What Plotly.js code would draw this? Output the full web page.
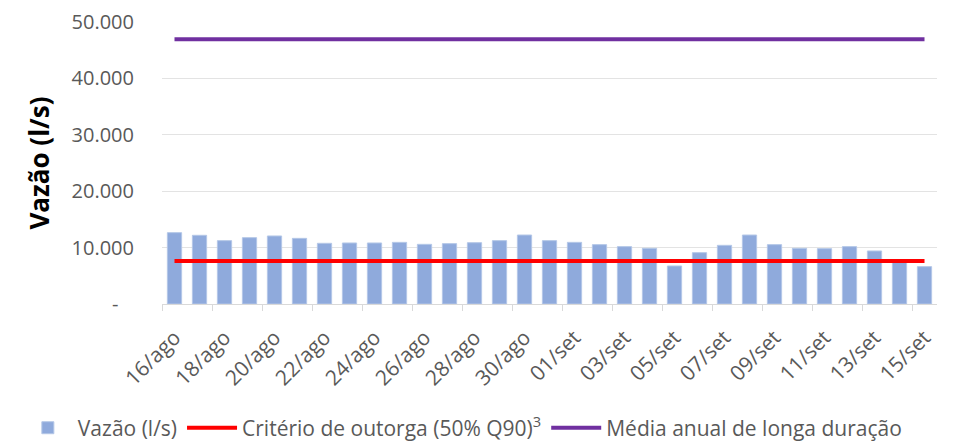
<!DOCTYPE html>
<html><head><meta charset="utf-8">
<script src="https://cdn.plot.ly/plotly-3.0.1.min.js"></script>
<style>html,body{margin:0;padding:0;background:#fff}#chart{width:959px;height:442px}</style>
</head><body><div id="chart"></div>
<script>
const categories = ['16/ago','17/ago','18/ago','19/ago','20/ago','21/ago','22/ago','23/ago','24/ago','25/ago','26/ago','27/ago','28/ago','29/ago','30/ago','31/ago',
  '01/set','02/set','03/set','04/set','05/set','06/set','07/set','08/set','09/set','10/set','11/set','12/set','13/set','14/set','15/set'];
const vazao = [12650,12180,11230,11760,12060,11640,10760,10820,10820,10930,10580,10700,10870,11230,12230,11230,
  10930,10520,10170,9870,6740,9100,10400,12230,10520,9870,9810,10170,9400,7550,6620];
const criterioOutorga = 7620;
const mediaLongaDuracao = 46930;
const yTickVals = [0,10000,20000,30000,40000,50000];
const yTickText = ['-\u00a0\u00a0\u00a0','10.000','20.000','30.000','40.000','50.000'];

const idx = categories.map((c,i)=>i);
const labelIdx = idx.filter(i=>i%2===0);
const labelText = labelIdx.map(i=>categories[i]);
const boundaryTicks = [];
for (let b=-0.5; b<30; b+=2) boundaryTicks.push(b);

const font = "'Open Sans', sans-serif";
const traces = [
  {type:'bar', x:idx, y:vazao, name:'Vazão (l/s)', marker:{color:'#8faadc', line:{color:'#b4c7e7', width:1}}},
  {type:'scatter', mode:'lines', x:idx, y:idx.map(()=>criterioOutorga), name:'Critério de outorga (50% Q90)<sup>3</sup>', line:{color:'#ff0000', width:4}},
  {type:'scatter', mode:'lines', x:idx, y:idx.map(()=>mediaLongaDuracao), name:'Média anual de longa duração', line:{color:'#7030a0', width:4}},
  {type:'scatter', mode:'lines', x:[-0.5], y:[0], xaxis:'x2', showlegend:false, hoverinfo:'skip', line:{width:0}}
];
const layout = {
  width:959, height:442,
  margin:{l:162, r:22, t:22, b:138, autoexpand:false},
  paper_bgcolor:'#fff', plot_bgcolor:'#fff',
  font:{family:font, color:'#595959', size:20},
  bargap:0.43,
  showlegend:true,
  legend:{orientation:'h', xref:'paper', yref:'paper', x:-0.186, xanchor:'left', y:-0.44, yanchor:'middle',
    font:{size:21, color:'#595959', family:font}, itemwidth:50, tracegroupgap:0},
  xaxis:{range:[-0.5,30.5], tickmode:'array', tickvals:labelIdx, ticktext:labelText, tickangle:-45,
    ticks:'', showgrid:false, zeroline:false, showline:true, linecolor:'#d9d9d9', linewidth:1,
    ticklabelstandoff:12, tickfont:{size:21, color:'#595959'}, fixedrange:true},
  xaxis2:{overlaying:'x', matches:'x', range:[-0.5,30.5], tickmode:'array', tickvals:boundaryTicks, showticklabels:false,
    ticks:'outside', ticklen:6, tickcolor:'#d9d9d9', showgrid:false, zeroline:false, showline:false},
  yaxis:{range:[0,50000], tickmode:'array', tickvals:yTickVals, ticktext:yTickText,
    showgrid:true, gridcolor:'#e3e3e3', gridwidth:1, zeroline:false, showline:false, ticks:'',
    ticklabelstandoff:27, tickfont:{size:20, color:'#595959'},
    title:{text:'<b>Vazão (l/s)</b>', font:{size:26, color:'#000'}, standoff:14}, automargin:false}
};
Plotly.newPlot('chart', traces, layout, {displayModeBar:false, staticPlot:true});
</script></body></html>
